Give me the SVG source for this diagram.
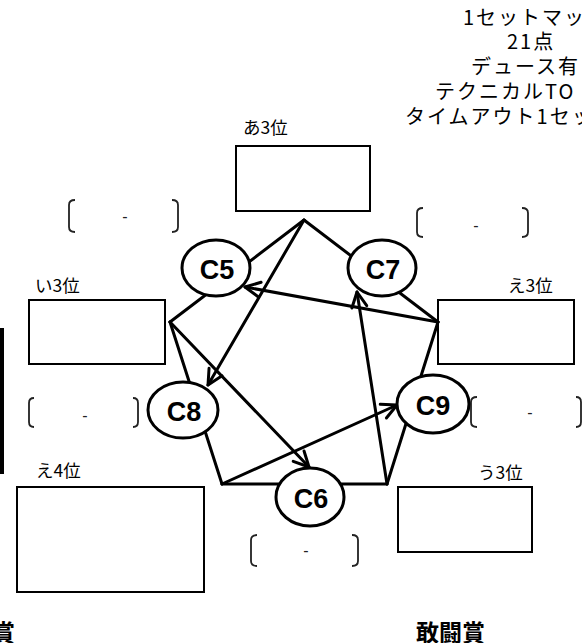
<svg xmlns="http://www.w3.org/2000/svg" width="582" height="643" viewBox="0 0 582 643">
<style>
.bg{fill:#fff}
.box{fill:#fff;stroke:#000;stroke-width:2}
.lbl{font-family:"Noto Sans CJK JP","Noto Sans",sans-serif;font-size:17.5px;fill:#000}
.hdr{font-family:"Noto Sans CJK JP","Noto Sans",sans-serif;font-size:20px;letter-spacing:2px;fill:#000}
.conn{stroke:#000;stroke-width:3;fill:none;stroke-linecap:round;stroke-linejoin:round}
.arr{marker-end:url(#arr)}
.node{fill:#fff;stroke:#000;stroke-width:3}
.nt{font-family:"Liberation Sans",Arial,sans-serif;font-weight:bold;font-size:27px;fill:#000;text-anchor:middle}
.br{fill:none;stroke:#222;stroke-width:1.8}
.dash{font-family:"Liberation Sans",Arial,sans-serif;font-size:16px;fill:#222;text-anchor:middle}
.prize{font-family:"Noto Sans CJK JP","Noto Sans",sans-serif;font-weight:bold;font-size:23px;fill:#000}
</style>
<defs>
<marker id="arr" viewBox="-17 -10 20 20" refX="0" refY="0" markerWidth="20" markerHeight="20" markerUnits="userSpaceOnUse" orient="auto">
<path d="M-15,-7.5 L0,0 L-15,7.5" fill="none" stroke="#000" stroke-width="3" stroke-linecap="round" stroke-linejoin="round"/>
</marker>
</defs>
<rect class="bg" x="0" y="0" width="582" height="643"/>

<g id="header">
<text class="hdr" x="463" y="25">1セットマッチ</text>
<text class="hdr" x="507" y="49">21点</text>
<text class="hdr" x="471" y="74">デュース有り</text>
<text class="hdr" x="435" y="99">テクニカルTO</text>
<text class="hdr" x="405" y="124">タイムアウト1セット</text>
</g>

<rect id="left-bar" x="0" y="328" width="4" height="146" fill="#000"/>

<g id="box-a3">
<text class="lbl" x="243" y="134">あ3位</text>
<rect class="box" x="236" y="146" width="134" height="65"/>
</g>
<g id="box-i3">
<text class="lbl" x="35" y="292">い3位</text>
<rect class="box" x="29" y="300" width="136" height="64"/>
</g>
<g id="box-e3">
<text class="lbl" x="508" y="292">え3位</text>
<rect class="box" x="438" y="300" width="136" height="64"/>
</g>
<g id="box-u3">
<text class="lbl" x="478" y="479">う3位</text>
<rect class="box" x="398" y="487" width="134" height="65"/>
</g>
<g id="box-e4">
<text class="lbl" x="36" y="477">え4位</text>
<rect class="box" x="17" y="487" width="187" height="105"/>
</g>

<g id="score-top-left">
<path class="br" d="M75,200 Q69,200 69,205 L69,227 Q69,232 75,232"/>
<path class="br" d="M172,200 Q178,200 178,205 L178,227 Q178,232 172,232"/>
<text class="dash" x="125" y="222">-</text>
</g>
<g id="score-top-right">
<path class="br" d="M423,208 Q417,208 417,213 L417,232 Q417,237 423,237"/>
<path class="br" d="M522,208 Q528,208 528,213 L528,232 Q528,237 522,237"/>
<text class="dash" x="476" y="231">-</text>
</g>
<g id="score-left">
<path class="br" d="M34,398 Q29,398 29,403 L29,422 Q29,427 34,427"/>
<path class="br" d="M133,398 Q138,398 138,403 L138,422 Q138,427 133,427"/>
<text class="dash" x="85" y="421">-</text>
</g>
<g id="score-right">
<path class="br" d="M477,397 Q471,397 471,402 L471,422 Q471,427 477,427"/>
<path class="br" d="M576,397 Q581,397 581,402 L581,422 Q581,427 576,427"/>
<text class="dash" x="530" y="418">-</text>
</g>
<g id="score-bottom">
<path class="br" d="M257,535 Q251,535 251,540 L251,561 Q251,566 257,566"/>
<path class="br" d="M352,535 Q358,535 358,540 L358,561 Q358,566 352,566"/>
<text class="dash" x="306" y="556">-</text>
</g>

<g id="connectors">
<line class="conn" x1="304" y1="220" x2="170" y2="322"/>
<line class="conn" x1="304" y1="220" x2="438" y2="322"/>
<line class="conn" x1="170" y1="322" x2="222" y2="484"/>
<line class="conn" x1="438" y1="322" x2="387" y2="484"/>
<line class="conn" x1="222" y1="484" x2="387" y2="484"/>
<line class="conn arr" x1="304" y1="220" x2="208" y2="385"/>
<line class="conn arr" x1="170" y1="322" x2="309" y2="467"/>
<line class="conn arr" x1="438" y1="322" x2="245" y2="287"/>
<line class="conn arr" x1="222" y1="484" x2="397" y2="405"/>
<line class="conn arr" x1="387" y1="484" x2="357" y2="292"/>
</g>

<g id="C5">
<ellipse class="node" cx="216" cy="268" rx="34" ry="28"/>
<text class="nt" x="217" y="279">C5</text>
</g>
<g id="C7">
<ellipse class="node" cx="382" cy="268" rx="34" ry="28"/>
<text class="nt" x="383" y="279">C7</text>
</g>
<g id="C8">
<ellipse class="node" cx="183" cy="410" rx="35" ry="28"/>
<text class="nt" x="184" y="421">C8</text>
</g>
<g id="C9">
<ellipse class="node" cx="433" cy="404" rx="36" ry="29"/>
<text class="nt" x="433" y="415">C9</text>
</g>
<g id="C6">
<ellipse class="node" cx="310" cy="497" rx="34" ry="29"/>
<text class="nt" x="311" y="508">C6</text>
</g>

<text class="prize" x="-8" y="641">賞</text>
<text class="prize" x="416" y="641">敢闘賞</text>
</svg>
